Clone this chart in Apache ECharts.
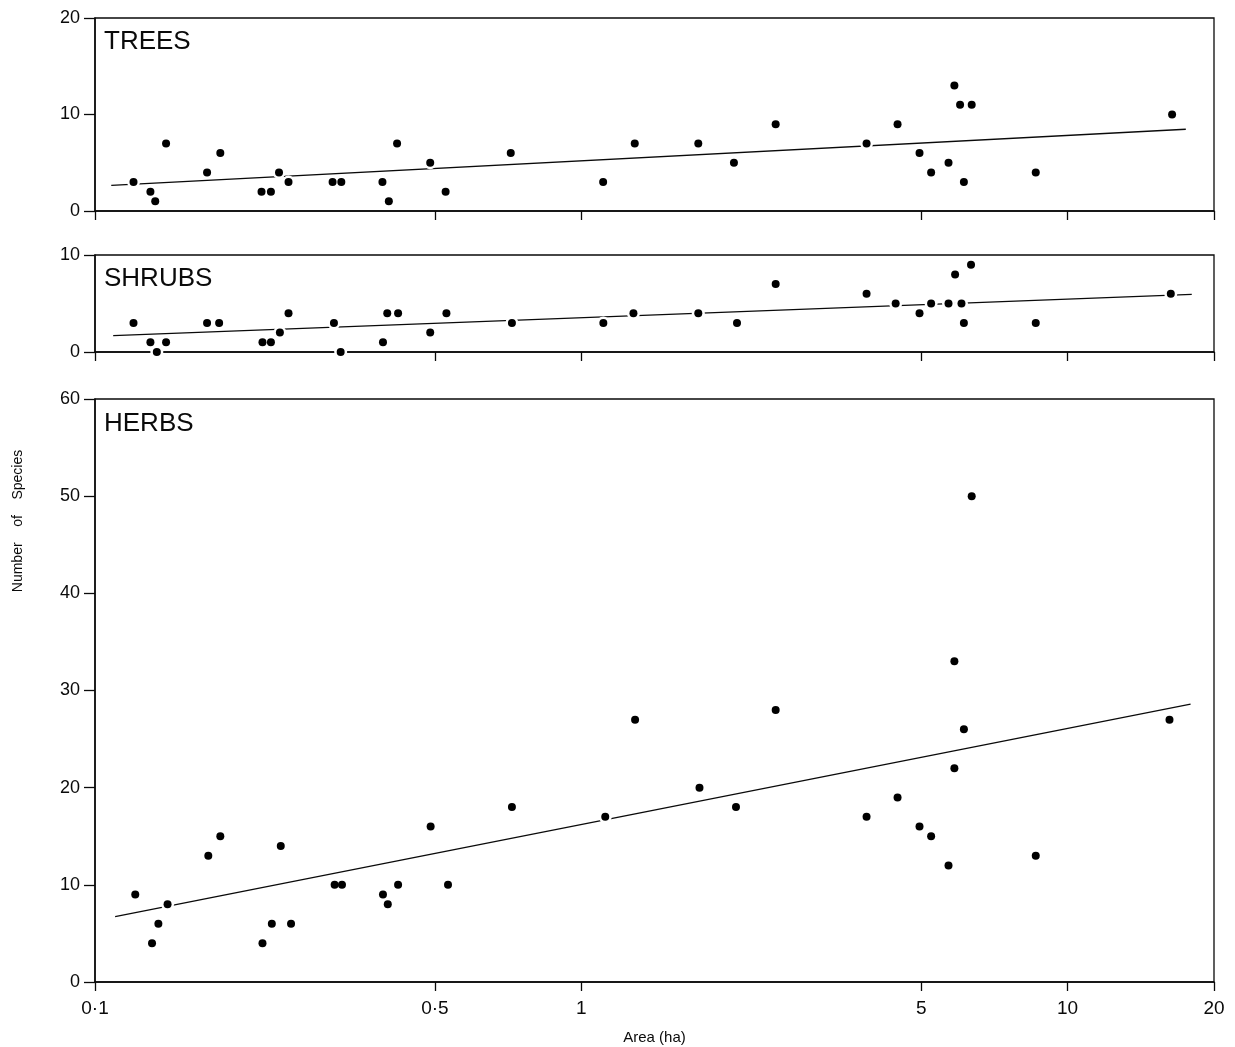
<!DOCTYPE html>
<html><head><meta charset="utf-8">
<script src="https://cdn.jsdelivr.net/npm/echarts@6/dist/echarts.min.js"></script>
<style>html,body{margin:0;padding:0;background:#fff}#c{width:1235px;height:1047px}</style>
</head><body><div id="c"></div>
<script>
// ---- data (Area in ha, Number of Species) ----
const treesArea  = [0.120,0.130,0.133,0.140,0.170,0.181,0.220,0.230,0.239,0.250,0.308,0.321,0.390,0.402,0.418,0.489,0.526,0.716,1.109,1.288,1.74,2.06,2.51,3.86,4.47,4.96,5.24,5.69,5.85,6.01,6.12,6.35,8.6,16.4];
const treesCount = [3,2,1,7,4,6,2,2,4,3,3,3,3,1,7,5,2,6,3,7,7,5,9,7,9,6,4,5,13,11,3,11,4,10];

const shrubsArea  = [0.120,0.130,0.134,0.140,0.170,0.180,0.221,0.230,0.240,0.250,0.310,0.320,0.391,0.399,0.420,0.489,0.528,0.72,1.11,1.28,1.74,2.09,2.51,3.86,4.43,4.96,5.24,5.69,5.87,6.05,6.12,6.33,8.6,16.3];
const shrubsCount = [3,1,0,1,3,3,1,1,2,4,3,0,1,4,4,2,4,3,3,4,4,3,7,6,5,4,5,5,8,5,3,9,3,6];

const herbsArea  = [0.121,0.131,0.135,0.141,0.171,0.181,0.221,0.231,0.241,0.253,0.311,0.322,0.391,0.400,0.420,0.490,0.532,0.72,1.12,1.29,1.75,2.08,2.51,3.86,4.47,4.96,5.24,5.69,5.85,5.85,6.12,6.35,8.6,16.2];
const herbsCount = [9,4,6,8,13,15,4,6,14,6,10,10,9,8,10,16,10,18,17,27,20,18,28,17,19,16,15,12,33,22,26,50,13,27];

// fitted regression lines (end points)
const treesFitArea  = [0.108, 17.5];
const treesFitCount = [2.65, 8.47];
const shrubsFitArea  = [0.109, 18.0];
const shrubsFitCount = [1.68, 5.95];
const herbsFitArea  = [0.110, 17.9];
const herbsFitCount = [6.72, 28.6];

const xTickValues = [0.1, 0.5, 1, 5, 10, 20];
const panelNames = ['TREES', 'SHRUBS', 'HERBS'];
const yMax = [20, 10, 60];

// ---- build chart ----
const zip = (a, b) => a.map((v, i) => [v, b[i]]);
const INK = '#0a0a0a';
const panels = [
  {pts: zip(treesArea, treesCount),  fit: zip(treesFitArea, treesFitCount)},
  {pts: zip(shrubsArea, shrubsCount), fit: zip(shrubsFitArea, shrubsFitCount)},
  {pts: zip(herbsArea, herbsCount),  fit: zip(herbsFitArea, herbsFitCount)}
];
const gridPos = [
  {top: 18, height: 193},
  {top: 255, height: 97},
  {top: 399, height: 583}
];
const labelTop = [29, 266, 411];

const grid = gridPos.map(g => ({left: 95, right: 21, top: g.top, height: g.height,
  show: true, borderColor: INK, borderWidth: 1.3, backgroundColor: 'transparent',
  containLabel: false, outerBoundsMode: 'none'}));

const xAxis = gridPos.map((g, i) => ({
  type: 'log', logBase: 10, min: 0.1, max: 20, gridIndex: i,
  axisLine: {show: true, lineStyle: {color: INK, width: 1.5}},
  axisTick: {show: true, customValues: xTickValues, length: 9, inside: false, lineStyle: {color: INK, width: 1.3}},
  minorTick: {show: false},
  splitLine: {show: false},
  axisLabel: {show: i === 2, customValues: xTickValues, margin: 17, color: INK,
    fontFamily: '"Liberation Sans Narrow", "Liberation Sans", Arial, sans-serif', fontSize: 19,
    formatter: v => String(v).replace('.', '\u00b7')},
  name: i === 2 ? 'Area (ha)' : '',
  nameLocation: 'middle', nameGap: 48,
  nameTextStyle: {color: INK, fontSize: 15, fontFamily: '"Liberation Sans Narrow", "Liberation Sans", Arial, sans-serif'}
}));

const yAxis = gridPos.map((g, i) => ({
  type: 'value', min: 0, max: yMax[i], interval: 10, gridIndex: i,
  axisLine: {show: true, lineStyle: {color: INK, width: 1.5}},
  axisTick: {show: true, length: 11, lineStyle: {color: INK, width: 1.3}},
  splitLine: {show: false},
  axisLabel: {margin: 15, color: INK, fontSize: 18, fontFamily: '"Liberation Sans", Arial, sans-serif'}
}));

const series = [];
panels.forEach((p, i) => {
  series.push({type: 'line', xAxisIndex: i, yAxisIndex: i, data: p.fit, symbol: 'none', silent: true,
    lineStyle: {color: INK, width: 1.3}, z: 2, animation: false});
  series.push({type: 'scatter', xAxisIndex: i, yAxisIndex: i, data: p.pts, symbol: 'circle', symbolSize: 13,
    itemStyle: {color: '#fff', opacity: 1}, silent: true, z: 3, animation: false});
  series.push({type: 'scatter', xAxisIndex: i, yAxisIndex: i, data: p.pts, symbol: 'circle', symbolSize: 8,
    itemStyle: {color: '#000', opacity: 1}, z: 4, animation: false});
});

const title = panelNames.map((n, i) => ({text: n, left: 104, top: labelTop[i], padding: 0,
  textStyle: {color: INK, fontSize: 26, fontWeight: 'normal', fontFamily: '"Liberation Sans", Arial, sans-serif'}}));

const chart = echarts.init(document.getElementById('c'), null, {renderer: 'canvas'});
chart.setOption({
  backgroundColor: '#fff',
  animation: false,
  title,
  grid, xAxis, yAxis, series,
  graphic: [{
    type: 'text', x: 18, y: 521, rotation: Math.PI / 2,
    style: {text: 'Number    of    Species', fill: INK, font: '14px "Liberation Sans", Arial, sans-serif',
      textAlign: 'center', textVerticalAlign: 'middle'}
  }]
});
</script></body></html>
